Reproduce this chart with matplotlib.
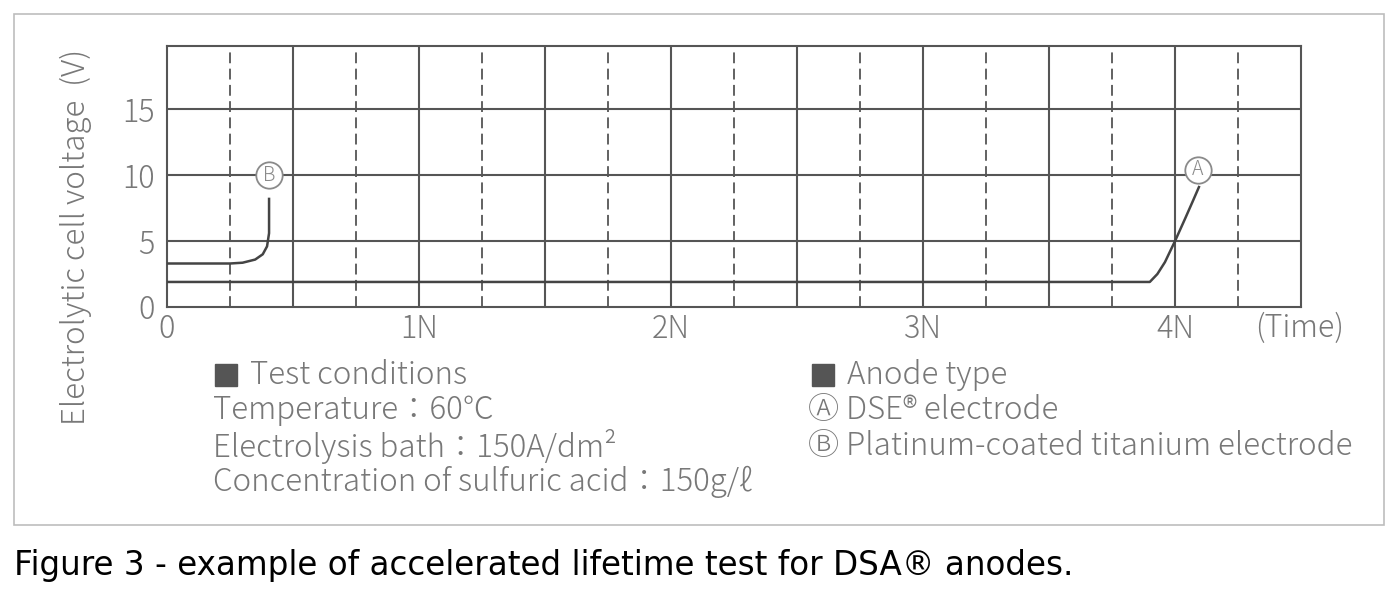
import matplotlib.pyplot as plt
from matplotlib.patches import Rectangle

# curve readings (time in units of N, voltage in V)
time_a = [0, 3.9, 3.93, 3.96, 4.0, 4.04, 4.07, 4.095]
volt_a = [1.9, 1.9, 2.5, 3.4, 5.0, 6.7, 8.0, 9.1]
time_b = [0, 0.25, 0.3, 0.35, 0.38, 0.397, 0.405, 0.405]
volt_b = [3.3, 3.3, 3.36, 3.6, 4.0, 4.6, 5.6, 8.2]
label_pos = {"A": (4.09, 10.4), "B": (0.405, 10.0)}

x_ticks = [0, 1, 2, 3, 4]
x_labels = ["0", "1N", "2N", "3N", "4N"]
y_ticks = [0, 5, 10, 15]

cond_lines = ["Temperature\uff1a60\u2103",
              "Electrolysis bath\uff1a150A/dm\u00b2",
              "Concentration of sulfuric acid\uff1a150g/\u2113"]
anode_lines = ["\u24b6 DSE\u00ae electrode",
               "\u24b7 Platinum-coated titanium electrode"]

W, H = 1399, 599
FONT = ["Noto Sans CJK JP", "DejaVu Sans"]
plt.rcParams["font.family"] = FONT
plt.rcParams["font.weight"] = "light"
GRID = "#555555"
TXT = "#787878"
FS = 22.5

fig = plt.figure(figsize=(W / 100, H / 100), dpi=100)


def px(x, y):
    return x / W, 1 - y / H


# outer frame
fig.add_artist(Rectangle(px(14, 525), (1384 - 14) / W, (525 - 14) / H,
                         transform=fig.transFigure, fill=False,
                         edgecolor="#bdbdbd", lw=1.2))

ax = fig.add_axes([167 / W, 1 - 307 / H, (1301 - 167) / W, (307 - 46) / H])
ax.set_xlim(0, 4.5)
ax.set_ylim(0, 19.8)

for i in range(1, 18):
    if i % 2 == 0:
        ax.axvline(i * 0.25, color=GRID, lw=1.5, zorder=1)
    else:
        ax.axvline(i * 0.25, color=GRID, lw=1.3, ls=(0, (6, 3)), zorder=1)
for yv in y_ticks[1:]:
    ax.axhline(yv, color=GRID, lw=1.5, zorder=1)

ax.plot(time_a, volt_a, color="#444444", lw=1.8, zorder=3)
ax.plot(time_b, volt_b, color="#444444", lw=1.8, zorder=3)

for name, (lx, ly) in label_pos.items():
    ax.plot(lx, ly, "o", ms=19, mfc="white", mec="#8a8a8a", mew=1.3, zorder=4)
    ax.text(lx, ly, name, ha="center", va="center", fontsize=14,
            color="#8a8a8a", zorder=5)

for s in ax.spines.values():
    s.set_color(GRID)
    s.set_linewidth(1.5)

ax.set_xticks(x_ticks, x_labels)
ax.set_yticks(y_ticks)
ax.tick_params(length=0, labelsize=22, labelcolor=TXT)
ax.tick_params(axis="x", pad=4)
ax.tick_params(axis="y", pad=9)
ax.text(4.495, -1.6, "(Time)", ha="center", va="center", fontsize=22,
        color=TXT, transform=ax.transData, clip_on=False)

fig.text(*px(76, 237), "Electrolytic cell voltage  (V)", rotation=90,
         ha="center", va="center", fontsize=22.5, color=TXT)

# legend blocks
fig.add_artist(Rectangle(px(215, 386), 22 / W, 22 / H,
                         transform=fig.transFigure, color="#555555"))
fig.text(*px(250, 375), "Test conditions", ha="left", va="center",
         fontsize=FS, color=TXT)
for k, line in enumerate(cond_lines):
    fig.text(*px(213, 410 + 36 * k), line, ha="left", va="center",
             fontsize=FS, color=TXT)

fig.add_artist(Rectangle(px(812, 386), 22 / W, 22 / H,
                         transform=fig.transFigure, color="#555555"))
fig.text(*px(847, 375), "Anode type", ha="left", va="center",
         fontsize=FS, color=TXT)
for k, line in enumerate(anode_lines):
    fig.text(*px(808, 410 + 36 * k), line, ha="left", va="center",
             fontsize=FS, color=TXT)

fig.text(*px(14, 565), "Figure 3 - example of accelerated lifetime test for DSA\u00ae anodes.",
         ha="left", va="center", fontsize=23.5, color="black",
         family="DejaVu Sans", weight="normal")

fig.savefig("out.png", dpi=100)
